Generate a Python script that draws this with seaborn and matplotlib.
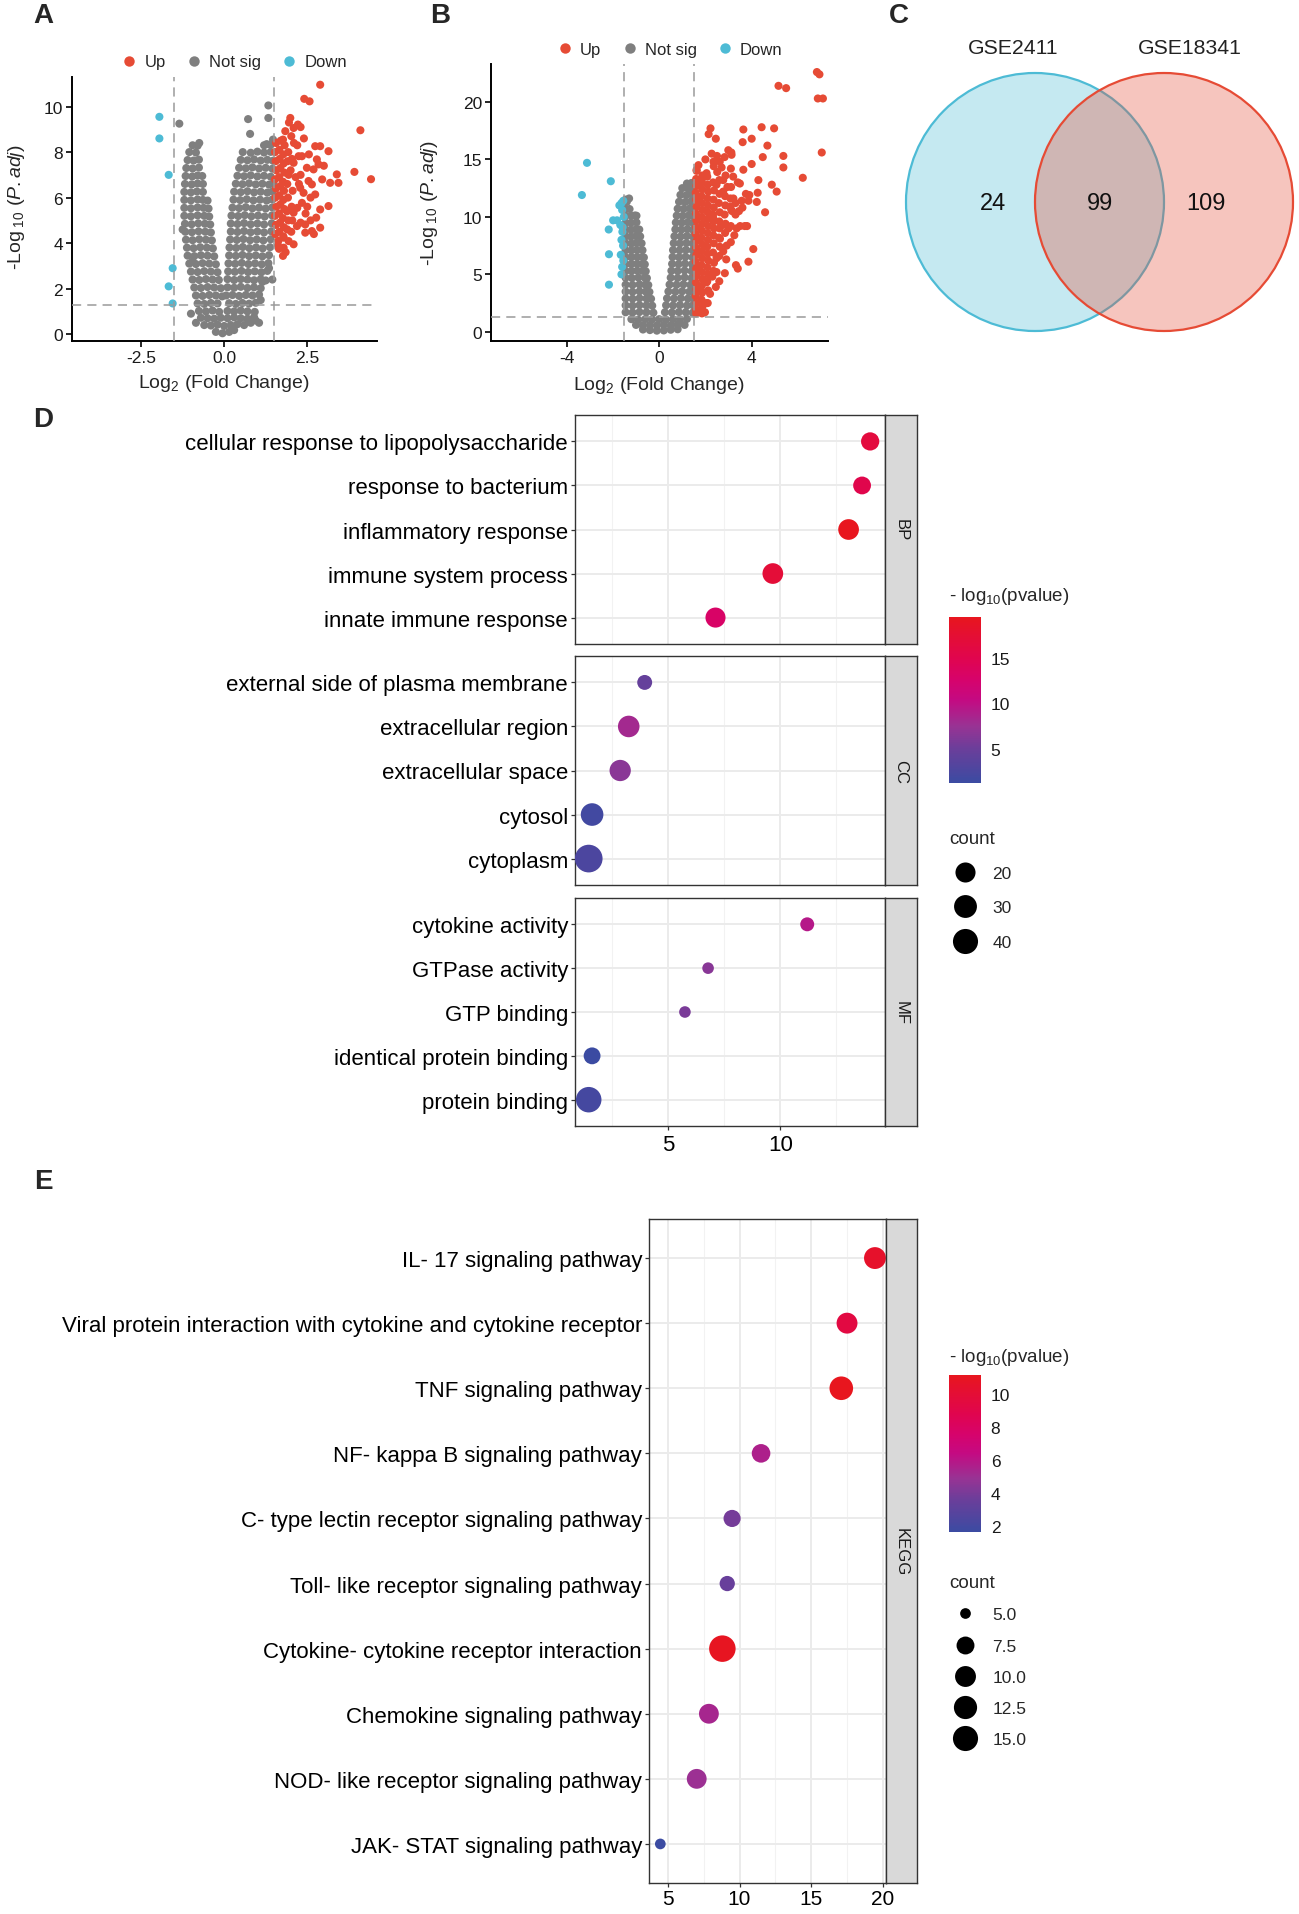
import numpy as np
import pandas as pd
import matplotlib
matplotlib.use("Agg")
import matplotlib.pyplot as plt
import seaborn as sns
from matplotlib.colors import LinearSegmentedColormap, Normalize, to_rgb
from matplotlib.lines import Line2D
from matplotlib.patches import Circle
from matplotlib.ticker import MultipleLocator
import matplotlib.cm as cm

# ---------------------------------------------------------------- data
# Panel A volcano (log2FC, -log10 padj)
a_up = [
    (1.54, 4.4), (1.56, 4.8), (1.53, 5.2), (1.57, 5.6), (1.54, 6.0), (1.56, 6.4), (1.53, 6.8), (1.57, 7.2),
    (1.55, 7.6), (1.53, 8.0), (1.56, 8.4), (1.66, 4.5), (1.68, 4.9), (1.65, 5.3), (1.69, 5.7), (1.66, 6.1),
    (1.68, 6.5), (1.65, 6.9), (1.69, 7.3), (1.67, 7.7), (1.66, 8.1), (1.7, 8.5), (1.78, 4.3), (1.8, 4.7),
    (1.77, 5.1), (1.81, 5.5), (1.78, 5.9), (1.8, 6.3), (1.77, 6.7), (1.81, 7.1), (1.79, 7.5), (1.78, 7.9),
    (1.82, 8.3), (1.9, 4.6), (1.93, 5.0), (1.89, 5.4), (1.92, 6.0), (1.9, 6.6), (1.94, 7.0), (1.91, 7.6),
    (1.93, 8.0), (2.02, 4.5), (2.05, 5.0), (2.03, 5.6), (2.06, 6.3), (2.0, 7.2), (2.04, 7.7),
    (2.89, 10.96), (2.41, 10.34), (2.57, 10.23), (1.99, 9.5), (2.22, 9.21), (2.09, 9.06), (1.84, 8.92),
    (2.02, 8.7), (1.77, 8.55), (4.1, 8.96), (2.89, 8.26), (2.74, 8.26), (3.14, 8.04), (2.24, 7.82),
    (2.34, 7.82), (2.09, 7.53), (2.79, 7.68), (2.84, 7.46), (2.49, 7.31), (2.69, 7.24), (3.39, 7.02),
    (3.92, 7.13), (4.42, 6.81), (3.19, 6.65), (3.44, 6.65), (2.54, 6.73), (2.64, 6.58), (2.29, 6.43),
    (2.39, 6.21), (2.74, 6.14), (3.14, 5.63), (2.89, 5.48), (2.34, 5.77), (2.2, 5.55), (2.09, 5.34),
    (2.45, 5.3), (2.77, 5.12), (2.6, 5.0), (2.89, 4.68), (2.44, 4.82), (2.64, 4.53), (2.44, 4.46),
    (2.19, 4.75), (2.3, 4.9), (1.79, 4.24), (1.94, 4.09), (2.09, 3.95), (1.79, 3.8), (1.77, 3.44),
    (1.85, 3.6), (2.15, 6.9), (2.3, 7.0), (2.55, 7.9), (2.2, 8.3), (2.4, 8.6), (2.1, 8.4), (2.6, 6.0),
    (2.5, 5.6), (2.95, 6.8), (3.0, 7.4), (1.62, 3.9), (2.7, 4.4), (2.25, 6.6), (1.95, 9.3), (2.3, 9.1),
    (1.65, 3.75), (1.63, 4.1),
]
a_down = [(-1.95, 9.55), (-1.95, 8.6), (-1.67, 7.0), (-1.55, 2.9), (-1.67, 2.1), (-1.55, 1.35)]
a_notsig = [
    (-0.25, 0.1), (-0.05, 0.04), (0.15, 0.1), (0.3, 0.18),
    (-0.6, 0.4), (-0.4, 0.38), (-0.2, 0.42), (0.0, 0.36), (0.2, 0.4), (0.4, 0.44), (0.6, 0.4), (0.8, 0.5),
    (-0.7, 0.72), (-0.5, 0.7), (-0.3, 0.68), (-0.1, 0.72), (0.1, 0.7), (0.3, 0.74), (0.5, 0.7), (0.7, 0.68), (0.9, 0.75),
    (-0.76, 1.02), (-0.55, 1.0), (-0.35, 1.04), (-0.15, 0.98), (0.1, 1.02), (0.3, 1.0), (0.5, 1.04), (0.7, 1.0), (0.92, 0.98),
    (-0.8, 1.35), (-0.6, 1.33), (-0.4, 1.37), (-0.2, 1.35), (0.15, 1.36), (0.35, 1.33), (0.55, 1.37), (0.75, 1.34), (0.95, 1.38),
    (-0.85, 1.7), (-0.65, 1.68), (-0.45, 1.72), (-0.25, 1.7), (-0.06, 1.66), (0.06, 1.7), (0.25, 1.72), (0.45, 1.68),
    (0.65, 1.72), (0.85, 1.7), (1.05, 1.74),
    (-0.9, 2.05), (-0.7, 2.03), (-0.5, 2.07), (-0.3, 2.05), (-0.1, 2.02), (0.1, 2.06), (0.3, 2.04), (0.5, 2.08),
    (0.7, 2.03), (0.9, 2.06), (1.1, 2.02),
    (-0.95, 2.4), (-0.75, 2.38), (-0.55, 2.42), (-0.35, 2.4), (-0.16, 2.38), (0.1, 2.42), (0.3, 2.38), (0.5, 2.42),
    (0.7, 2.4), (0.9, 2.37), (1.1, 2.42), (1.25, 2.36),
    (-1.0, 2.75), (-0.8, 2.73), (-0.6, 2.77), (-0.4, 2.75), (-0.2, 2.72), (0.12, 2.76), (0.32, 2.74), (0.52, 2.78),
    (0.72, 2.73), (0.92, 2.76), (1.12, 2.72), (1.3, 2.78),
    (-1.05, 3.1), (-0.85, 3.08), (-0.65, 3.12), (-0.45, 3.1), (-0.25, 3.07), (0.13, 3.11), (0.33, 3.09), (0.53, 3.13),
    (0.73, 3.08), (0.93, 3.11), (1.13, 3.07), (1.33, 3.12),
    (-1.1, 3.45), (-0.9, 3.43), (-0.7, 3.47), (-0.5, 3.45), (-0.3, 3.42), (0.15, 3.46), (0.35, 3.44), (0.55, 3.48),
    (0.75, 3.43), (0.95, 3.46), (1.15, 3.42), (1.35, 3.47),
    (-1.12, 3.8), (-0.92, 3.78), (-0.72, 3.82), (-0.52, 3.8), (-0.34, 3.77), (0.16, 3.81), (0.36, 3.79), (0.56, 3.83),
    (0.76, 3.78), (0.96, 3.81), (1.16, 3.77), (1.38, 3.82),
    (-1.15, 4.15), (-0.95, 4.13), (-0.75, 4.17), (-0.55, 4.15), (-0.37, 4.12), (0.18, 4.16), (0.38, 4.14), (0.58, 4.18),
    (0.78, 4.13), (0.98, 4.16), (1.18, 4.12), (1.4, 4.17),
    (-1.17, 4.5), (-0.97, 4.48), (-0.77, 4.52), (-0.57, 4.5), (-0.4, 4.47), (0.2, 4.51), (0.4, 4.49), (0.6, 4.53),
    (0.8, 4.48), (1.0, 4.51), (1.2, 4.47), (1.42, 4.52),
    (-1.18, 4.85), (-0.98, 4.83), (-0.78, 4.87), (-0.58, 4.85), (-0.42, 4.82), (0.2, 4.86), (0.4, 4.84), (0.6, 4.88),
    (0.8, 4.83), (1.0, 4.86), (1.2, 4.82), (1.43, 4.87),
    (-1.2, 5.2), (-1.0, 5.18), (-0.8, 5.22), (-0.6, 5.2), (-0.45, 5.17), (0.22, 5.21), (0.42, 5.19), (0.62, 5.23),
    (0.82, 5.18), (1.02, 5.21), (1.22, 5.17), (1.44, 5.22),
    (-1.2, 5.55), (-1.0, 5.53), (-0.8, 5.57), (-0.62, 5.55), (-0.47, 5.52), (0.25, 5.56), (0.45, 5.54), (0.65, 5.58),
    (0.85, 5.53), (1.05, 5.56), (1.25, 5.52), (1.45, 5.57),
    (-1.2, 5.9), (-1.0, 5.88), (-0.8, 5.92), (-0.64, 5.9), (-0.5, 5.87), (0.28, 5.91), (0.48, 5.89), (0.68, 5.93),
    (0.88, 5.88), (1.08, 5.91), (1.28, 5.87), (1.45, 5.92),
    (-1.2, 6.25), (-1.0, 6.23), (-0.82, 6.27), (-0.64, 6.25), (0.3, 6.26), (0.5, 6.24), (0.7, 6.28), (0.9, 6.23),
    (1.1, 6.26), (1.3, 6.22), (1.46, 6.27),
    (-1.18, 6.6), (-0.98, 6.58), (-0.8, 6.62), (-0.64, 6.6), (0.35, 6.61), (0.55, 6.59), (0.75, 6.63), (0.95, 6.58),
    (1.15, 6.61), (1.35, 6.57), (1.47, 6.62),
    (-1.16, 6.95), (-0.96, 6.93), (-0.8, 6.97), (-0.66, 6.95), (0.4, 6.96), (0.6, 6.94), (0.8, 6.98), (1.0, 6.93),
    (1.2, 6.96), (1.4, 6.92),
    (-1.14, 7.3), (-0.95, 7.28), (-0.76, 7.32), (0.45, 7.31), (0.65, 7.29), (0.85, 7.33), (1.05, 7.28), (1.25, 7.31),
    (1.45, 7.27),
    (-1.1, 7.65), (-0.92, 7.63), (-0.76, 7.67), (0.5, 7.66), (0.7, 7.64), (0.9, 7.68), (1.1, 7.63), (1.3, 7.66),
    (1.47, 7.62),
    (-1.05, 8.0), (-0.85, 7.98), (0.56, 8.0), (0.8, 7.97), (1.0, 8.02), (1.2, 7.98), (1.4, 8.01),
    (-0.95, 8.3), (-0.8, 8.28), (1.2, 8.3), (1.4, 8.32), (1.47, 8.55),
    (-1.35, 9.25), (-0.75, 8.4), (0.72, 9.45), (0.78, 8.8), (1.33, 10.05), (1.33, 9.5), (1.28, 8.35),
    (-1.25, 4.6), (-1.0, 0.9), (1.45, 2.4), (1.15, 2.3), (0.95, 0.6), (1.05, 0.5), (-0.95, 3.2), (1.35, 2.9),
    (1.1, 1.5), (-0.85, 0.5),
]

# Panel B volcano
b_up = [
    (1.6, 1.9), (1.62, 2.5), (1.58, 3.1), (1.61, 3.7), (1.59, 4.3), (1.62, 4.9), (1.6, 5.5), (1.58, 6.1),
    (1.61, 6.7), (1.6, 7.3), (1.62, 7.9), (1.58, 8.5), (1.6, 9.1), (1.61, 9.7), (1.59, 10.3), (1.62, 10.9),
    (1.6, 11.5), (1.58, 12.1), (1.61, 12.7), (1.6, 13.3), (1.62, 14.0),
    (1.85, 1.6), (1.87, 2.2), (1.83, 2.8), (1.86, 3.4), (1.84, 4.0), (1.87, 4.6), (1.85, 5.2), (1.83, 5.8),
    (1.86, 6.4), (1.85, 7.0), (1.87, 7.6), (1.83, 8.2), (1.85, 8.8), (1.86, 9.4), (1.84, 10.0), (1.87, 10.6),
    (1.85, 11.2), (1.83, 11.8), (1.86, 12.4), (1.85, 13.0), (1.87, 13.6),
    (2.1, 2.5), (2.12, 3.6), (2.08, 4.4), (2.11, 5.0), (2.09, 5.6), (2.12, 6.2), (2.1, 6.8), (2.08, 7.4),
    (2.11, 8.0), (2.1, 8.6), (2.12, 9.2), (2.08, 9.8), (2.1, 10.4), (2.11, 11.0), (2.09, 11.6), (2.12, 12.2),
    (2.1, 12.8), (2.08, 13.5),
    (2.35, 5.3), (2.37, 6.0), (2.33, 6.9), (2.36, 7.7), (2.34, 8.4), (2.37, 9.0), (2.35, 9.6), (2.33, 10.2),
    (2.36, 10.8), (2.35, 11.5), (2.37, 12.3), (2.33, 13.0), (2.36, 14.4),
    (2.6, 6.6), (2.62, 7.4), (2.58, 8.2), (2.61, 9.0), (2.6, 9.6), (2.62, 10.4), (2.58, 11.2), (2.61, 12.0),
    (2.6, 13.2), (2.62, 14.8),
    (2.85, 8.6), (2.87, 9.4), (2.83, 10.2), (2.86, 11.0), (2.85, 11.8), (2.87, 13.6), (2.83, 15.2),
    (3.1, 9.2), (3.12, 10.6), (3.08, 11.6), (3.11, 12.6), (3.1, 14.2), (3.12, 15.6),
    (6.82, 22.6), (6.93, 22.4), (5.16, 21.4), (5.49, 21.2), (6.86, 20.3), (7.08, 20.3), (7.03, 15.6),
    (6.21, 13.4), (2.22, 17.7), (2.14, 17.2), (2.45, 16.8), (3.64, 17.6), (4.43, 17.8), (4.97, 17.7),
    (3.61, 16.5), (4.0, 16.8), (4.68, 16.2), (2.99, 15.8), (3.13, 15.4), (2.27, 15.5), (2.5, 15.3),
    (4.0, 14.6), (4.48, 15.2), (5.37, 15.3), (5.37, 14.3), (3.64, 14.1), (2.7, 14.3), (4.29, 13.2),
    (4.87, 12.8), (5.08, 12.2), (3.49, 12.9), (3.75, 12.0), (4.26, 12.1), (3.57, 11.4), (3.86, 11.4),
    (4.22, 11.3), (4.58, 10.4), (3.21, 11.6), (3.06, 10.9), (3.35, 9.0), (3.0, 9.0), (3.3, 10.2),
    (4.07, 7.2), (3.86, 6.1), (3.32, 5.8), (3.4, 5.5), (2.84, 5.1), (2.48, 5.2), (2.3, 4.8), (2.45, 3.9),
    (2.2, 3.3), (2.05, 2.5), (1.76, 1.9), (1.98, 1.7), (1.6, 1.6), (2.34, 9.9), (2.77, 9.3), (2.63, 8.1),
    (2.92, 7.5), (2.77, 7.0), (2.48, 6.4), (2.05, 4.3), (1.83, 3.5), (2.77, 13.2), (2.48, 12.8),
    (2.77, 12.2), (2.95, 12.6), (2.51, 13.9), (2.05, 13.8), (1.62, 14.1), (1.83, 13.2), (3.2, 13.5),
    (3.4, 13.0), (3.6, 10.8), (3.8, 9.2), (2.6, 4.4), (2.9, 6.3), (3.1, 7.8), (3.25, 8.4), (2.0, 15.0),
    (2.35, 14.8), (1.7, 14.5), (3.9, 11.9), (3.3, 11.2), (3.5, 9.2), (3.7, 9.2), (3.15, 10.5), (3.45, 10.5),
]
b_down = [
    (-3.12, 14.7), (-3.34, 11.9), (-2.09, 13.1), (-2.18, 8.9), (-2.17, 6.75), (-2.17, 4.1), (-1.63, 11.2),
    (-1.72, 11.0), (-1.55, 11.4), (-1.6, 10.6), (-1.99, 9.7), (-1.82, 9.7), (-1.68, 9.3), (-1.59, 8.7),
    (-1.63, 8.0), (-1.56, 7.5), (-1.66, 6.7), (-1.6, 5.65), (-1.63, 5.0), (-1.55, 6.2), (-1.53, 10.0),
    (-1.58, 9.1),
]
b_notsig = [
    (-0.7, 0.2), (-0.4, 0.15), (-0.1, 0.1), (0.2, 0.12), (0.5, 0.18), (0.8, 0.22),
    (-1.0, 0.6), (-0.7, 0.55), (-0.4, 0.6), (-0.1, 0.55), (0.2, 0.6), (0.5, 0.55), (0.8, 0.62), (1.1, 0.6),
    (-1.2, 1.1), (-0.9, 1.05), (-0.6, 1.1), (-0.3, 1.08), (0.0, 1.1), (0.3, 1.05), (0.6, 1.1), (0.9, 1.08), (1.2, 1.12),
    (-1.45, 1.7), (-1.15, 1.68), (-0.85, 1.72), (-0.55, 1.7), (-0.25, 1.66), (0.25, 1.7), (0.55, 1.68),
    (0.85, 1.72), (1.15, 1.7), (1.45, 1.66),
    (-1.45, 2.3), (-1.15, 2.28), (-0.85, 2.32), (-0.55, 2.3), (-0.3, 2.27), (0.3, 2.31), (0.6, 2.29),
    (0.9, 2.33), (1.2, 2.28), (1.46, 2.31),
    (-1.45, 2.9), (-1.15, 2.88), (-0.85, 2.92), (-0.55, 2.9), (-0.35, 2.87), (0.34, 2.91), (0.64, 2.89),
    (0.94, 2.93), (1.24, 2.88), (1.47, 2.91),
    (-1.45, 3.5), (-1.15, 3.48), (-0.85, 3.52), (-0.58, 3.5), (-0.42, 3.47), (0.4, 3.51), (0.7, 3.49),
    (1.0, 3.53), (1.3, 3.48), (1.47, 3.51),
    (-1.45, 4.1), (-1.15, 4.08), (-0.85, 4.12), (-0.6, 4.1), (-0.47, 4.07), (0.45, 4.11), (0.75, 4.09),
    (1.05, 4.13), (1.35, 4.08),
    (-1.45, 4.7), (-1.18, 4.68), (-0.9, 4.72), (-0.62, 4.7), (-0.53, 4.67), (0.5, 4.71), (0.8, 4.69),
    (1.1, 4.73), (1.4, 4.68),
    (-1.45, 5.3), (-1.2, 5.28), (-0.95, 5.32), (-0.72, 5.3), (-0.58, 5.27), (0.53, 5.31), (0.8, 5.29),
    (1.1, 5.33), (1.4, 5.28), (1.47, 5.5),
    (-1.45, 5.9), (-1.2, 5.88), (-0.95, 5.92), (-0.72, 5.9), (-0.62, 5.87), (0.56, 5.91), (0.84, 5.89),
    (1.12, 5.93), (1.42, 5.88),
    (-1.45, 6.5), (-1.2, 6.48), (-0.95, 6.52), (-0.72, 6.5), (-0.66, 6.47), (0.58, 6.51), (0.86, 6.49),
    (1.14, 6.53), (1.44, 6.48),
    (-1.45, 7.1), (-1.2, 7.08), (-0.96, 7.12), (-0.72, 7.1), (0.6, 7.11), (0.88, 7.09), (1.16, 7.13), (1.45, 7.08),
    (-1.45, 7.7), (-1.2, 7.68), (-0.98, 7.72), (-0.76, 7.7), (0.63, 7.71), (0.9, 7.69), (1.18, 7.73), (1.45, 7.68),
    (-1.45, 8.3), (-1.22, 8.28), (-1.0, 8.32), (-0.82, 8.3), (0.66, 8.31), (0.93, 8.29), (1.2, 8.33), (1.46, 8.28),
    (-1.45, 8.9), (-1.22, 8.88), (-1.0, 8.92), (-0.86, 8.9), (0.7, 8.91), (0.96, 8.89), (1.22, 8.93), (1.46, 8.88),
    (-1.45, 9.5), (-1.22, 9.48), (-0.98, 9.52), (0.72, 9.51), (0.98, 9.49), (1.24, 9.53), (1.46, 9.48),
    (-1.45, 10.1), (-1.2, 10.08), (-1.05, 10.12), (0.76, 10.11), (1.02, 10.09), (1.28, 10.13), (1.47, 10.08),
    (-1.45, 10.7), (-1.28, 10.68), (0.8, 10.71), (1.06, 10.69), (1.32, 10.73), (1.47, 10.68),
    (-1.4, 11.3), (0.86, 11.31), (1.12, 11.29), (1.38, 11.33),
    (0.92, 11.91), (1.18, 11.89), (1.42, 11.93),
    (1.0, 12.5), (1.25, 12.48), (1.45, 12.52), (1.2, 12.9), (1.4, 12.95),
    (-0.98, 10.1), (-1.3, 11.6), (-1.45, 11.5),
]

# Panel C Venn
venn_sets = ["GSE2411", "GSE18341"]
venn_counts = [24, 99, 109]  # only first, both, only second

# Panel D GO enrichment
go_term = [
    "cellular response to lipopolysaccharide", "response to bacterium", "inflammatory response",
    "immune system process", "innate immune response",
    "external side of plasma membrane", "extracellular region", "extracellular space", "cytosol", "cytoplasm",
    "cytokine activity", "GTPase activity", "GTP binding", "identical protein binding", "protein binding",
]
go_category = ["BP", "BP", "BP", "BP", "BP", "CC", "CC", "CC", "CC", "CC", "MF", "MF", "MF", "MF", "MF"]
go_x = [14.0, 13.64, 13.04, 9.67, 7.12, 3.97, 3.26, 2.88, 1.63, 1.48, 11.2, 6.79, 5.76, 1.63, 1.48]
go_logp = [16.5, 15.2, 19.5, 17.0, 13.0, 4.5, 8.2, 6.7, 1.8, 2.6, 9.4, 6.6, 5.8, 1.2, 2.0]
go_count = [15, 14, 22, 22, 20, 9, 25, 24, 29, 54, 8, 7, 7, 12, 42]
go_size_breaks = [20, 30, 40]
go_color_ticks = [5, 10, 15]

# Panel E KEGG enrichment
kegg_term = [
    "IL- 17 signaling pathway", "Viral protein interaction with cytokine and cytokine receptor",
    "TNF signaling pathway", "NF- kappa B signaling pathway", "C- type lectin receptor signaling pathway",
    "Toll- like receptor signaling pathway", "Cytokine- cytokine receptor interaction",
    "Chemokine signaling pathway", "NOD- like receptor signaling pathway", "JAK- STAT signaling pathway",
]
kegg_x = [19.45, 17.5, 17.1, 11.5, 9.48, 9.14, 8.8, 7.86, 7.01, 4.47]
kegg_logp = [10.5, 9.4, 11.15, 5.6, 3.9, 3.5, 11.0, 5.4, 5.0, 1.66]
kegg_count = [11, 10, 13, 8, 7, 6, 17, 9, 9, 5]
kegg_size_breaks = [5.0, 7.5, 10.0, 12.5, 15.0]
kegg_color_ticks = [2, 4, 6, 8, 10]

# ---------------------------------------------------------------- style
W, H, DPI = 1299, 1915, 100
sns.set_theme(style="ticks")
plt.rcParams["font.family"] = ["Liberation Sans", "DejaVu Sans"]
plt.rcParams["mathtext.fontset"] = "custom"
plt.rcParams["mathtext.rm"] = "Liberation Sans"
plt.rcParams["mathtext.it"] = "Liberation Sans:italic"
plt.rcParams["mathtext.bf"] = "Liberation Sans:bold"

VOLC_COLORS = {"Up": "#E64B35", "Not sig": "#7F7F7F", "Down": "#4DBBD5"}
GROUPS = ["Up", "Not sig", "Down"]
LFC_CUT, P_CUT = 1.5, 0.05
PV_CMAP = LinearSegmentedColormap.from_list(
    "pv", [(0.0, "#3B4BA2"), (0.21, "#6C3E9A"), (0.34, "#983394"), (0.5, "#C40A82"),
           (0.62, "#D6036C"), (0.75, "#E0054F"), (1.0, "#E8161E")])
PX2PT = 72.0 / DPI

fig = plt.figure(figsize=(W / DPI, H / DPI), dpi=DPI)


def rect(l, t, r, b):
    return [l / W, 1 - b / H, (r - l) / W, (b - t) / H]


def fxy(x, y):
    return x / W, 1 - y / H


# ---------------------------------------------------------------- volcano
def volcano(box, up, ns, down, xlim, ylim, xticks, xlabels, yticks, leg_anchor):
    ax = fig.add_axes(rect(*box))
    rows = ([(x, y, "Not sig") for x, y in ns] + [(x, y, "Up") for x, y in up]
            + [(x, y, "Down") for x, y in down])
    df = pd.DataFrame(rows, columns=["lfc", "nlp", "group"])
    sns.scatterplot(data=df, x="lfc", y="nlp", hue="group", palette=VOLC_COLORS, s=34,
                    linewidth=0, ax=ax, legend=False, zorder=3)
    dash = dict(color="#9A9A9A", lw=1.1, ls=(0, (6, 4)), zorder=4)
    ax.axvline(-LFC_CUT, **dash)
    ax.axvline(LFC_CUT, **dash)
    ax.axhline(-np.log10(P_CUT), **dash)
    ax.set_xlim(*xlim)
    ax.set_ylim(*ylim)
    ax.set_xticks(xticks)
    ax.set_xticklabels(xlabels)
    ax.set_yticks(yticks)
    ax.set_xlabel("")
    ax.set_ylabel("")
    for s in ["top", "right"]:
        ax.spines[s].set_visible(False)
    for s in ["left", "bottom"]:
        ax.spines[s].set_color("black")
        ax.spines[s].set_linewidth(1.4)
    ax.tick_params(length=4.5, width=1.2, color="black", labelsize=12.5, labelcolor="#1a1a1a",
                   direction="out", pad=2, bottom=True, left=True)
    handles = [Line2D([], [], ls="", marker="o", color=VOLC_COLORS[g], markersize=7.5,
                      markeredgewidth=0) for g in GROUPS]
    ax.legend(handles, GROUPS, loc="center", bbox_to_anchor=leg_anchor, ncol=3, frameon=False,
              fontsize=12, handletextpad=0.3, columnspacing=1.1, handlelength=1.2,
              borderaxespad=0, borderpad=0)
    return ax


volcano((72, 78, 377, 342), a_up, a_notsig, a_down, (-4.58, 4.6), (-0.3, 11.3),
        [-2.5, 0.0, 2.5], ["-2.5", "0.0", "2.5"], [0, 2, 4, 6, 8, 10], (0.528, 1.057))
volcano((491, 65, 828, 342), b_up, b_notsig, b_down, (-7.27, 7.3), (-0.8, 23.3),
        [-4, 0, 4], ["-4", "0", "4"], [0, 5, 10, 15, 20], (0.528, 1.054))

ylab = r"-Log$_{\ 10}$ ($\mathit{P{.}adj}$)"
xlab = r"Log$_2$ (Fold Change)"
fig.text(*fxy(17, 207), ylab, rotation=90, ha="center", va="center", fontsize=14)
fig.text(*fxy(224, 384), xlab, ha="center", va="center", fontsize=14)
fig.text(*fxy(430, 203), ylab, rotation=90, ha="center", va="center", fontsize=14)
fig.text(*fxy(659, 385), xlab, ha="center", va="center", fontsize=14)

# ---------------------------------------------------------------- venn
axv = fig.add_axes(rect(880, 30, 1299, 345))
axv.set_xlim(880, 1299)
axv.set_ylim(345, 30)
axv.axis("off")
venn_blue, venn_red = "#4DBBD5", "#E64B35"
axv.add_patch(Circle((1035, 203), 129, facecolor=(*to_rgb(venn_blue), 0.32), edgecolor=venn_blue, lw=1.6))
axv.add_patch(Circle((1164, 203), 129, facecolor=(*to_rgb(venn_red), 0.32), edgecolor=venn_red, lw=1.6))
axv.text(1013, 48, venn_sets[0], ha="center", va="center", fontsize=15.3, color="#222222")
axv.text(1190, 48, venn_sets[1], ha="center", va="center", fontsize=15.3, color="#222222")
for xpos, val in zip([993, 1100, 1206], venn_counts):
    axv.text(xpos, 204, str(val), ha="center", va="center", fontsize=17, color="#111111")


# ---------------------------------------------------------------- dot plots
def diam_px(c, cmin, cmax, dmin, dmax):
    return dmin + (dmax - dmin) * np.sqrt(np.clip((c - cmin) / (cmax - cmin), 0, 1))


def dot_facet(box, strip_box, sub, norm, size_args, xlim, xticks, show_x, label, xsize=16, xpad=3):
    ax = fig.add_axes(rect(*box))
    sizes = {c: (diam_px(c, *size_args) * PX2PT) ** 2 for c in sub["count"].unique()}
    sns.scatterplot(data=sub, x="x", y="term", hue="logp", palette=PV_CMAP, hue_norm=norm,
                    size="count", sizes=sizes, linewidth=0, ax=ax, legend=False, zorder=3)
    n = len(sub)
    ax.set_ylim(n - 0.4, -0.6)
    ax.set_xlim(*xlim)
    ax.set_xticks(xticks)
    ax.xaxis.set_minor_locator(MultipleLocator(2.5))
    ax.grid(True, which="major", color="#EBEBEB", lw=1.4)
    ax.grid(True, which="minor", axis="x", color="#F2F2F2", lw=0.8)
    ax.set_axisbelow(True)
    ax.set_xlabel("")
    ax.set_ylabel("")
    for s in ax.spines.values():
        s.set_visible(True)
        s.set_color("#333333")
        s.set_linewidth(1.0)
    ax.tick_params(which="minor", length=0)
    ax.tick_params(axis="y", length=3, width=0.9, color="#333333", labelsize=16,
                   labelcolor="black", pad=2, left=True)
    ax.tick_params(axis="x", length=3, width=0.9, color="#333333", labelsize=xsize,
                   labelcolor="black", pad=xpad, bottom=show_x, labelbottom=show_x)
    sax = fig.add_axes(rect(*strip_box))
    sax.set_facecolor("#D9D9D9")
    sax.set_xticks([])
    sax.set_yticks([])
    for s in sax.spines.values():
        s.set_color("#333333")
        s.set_linewidth(1.0)
    sax.text(0.5, 0.5, label, rotation=-90, ha="center", va="center", fontsize=12,
             color="#1A1A1A", transform=sax.transAxes)
    return ax


def color_legend(box, title_xy, norm, ticks):
    cax = fig.add_axes(rect(*box))
    sm = cm.ScalarMappable(norm=Normalize(*norm), cmap=PV_CMAP)
    cb = fig.colorbar(sm, cax=cax, ticks=ticks)
    cb.outline.set_visible(False)
    cax.tick_params(direction="in", color="white", length=4.5, width=1.0, left=True, right=True,
                    labelsize=12.5, labelcolor="#1a1a1a", pad=7)
    fig.text(*fxy(*title_xy), r"- log$_{10}$(pvalue)", ha="left", va="center", fontsize=13.5)


def size_legend(anchor, breaks, labels, size_args, spacing):
    handles = [Line2D([], [], ls="", marker="o", color="black", markeredgewidth=0,
                      markersize=diam_px(b, *size_args) * PX2PT) for b in breaks]
    fig.legend(handles, labels, title="count", loc="upper left", bbox_to_anchor=fxy(*anchor),
               frameon=False, fontsize=12.5, title_fontsize=13.5, handlelength=1.8,
               handletextpad=0.7, labelspacing=spacing, borderpad=0, borderaxespad=0,
               alignment="left")


go_df = pd.DataFrame({"term": go_term, "cat": go_category, "x": go_x, "logp": go_logp, "count": go_count})
go_norm = (min(go_logp), max(go_logp))
go_size = (min(go_count), max(go_count), 11.6, 27.7)
go_boxes = {"BP": (416, 645), "CC": (657, 886), "MF": (899, 1127)}
for cat in ["BP", "CC", "MF"]:
    t, b = go_boxes[cat]
    dot_facet((575, t, 885, b), (885, t, 917, b), go_df[go_df["cat"] == cat].reset_index(drop=True),
              go_norm, go_size, (0.87, 14.66), [5, 10], cat == "MF", cat)
color_legend((949, 618, 981, 784), (949, 597), go_norm, go_color_ticks)
size_legend((949, 831), go_size_breaks, [str(b) for b in go_size_breaks], go_size, 1.1)

kegg_df = pd.DataFrame({"term": kegg_term, "x": kegg_x, "logp": kegg_logp, "count": kegg_count})
kegg_norm = (min(kegg_logp), max(kegg_logp))
kegg_size = (min(kegg_count), max(kegg_count), 10.7, 26.5)
dot_facet((649, 1220, 886, 1884), (886, 1220, 917, 1884), kegg_df, kegg_norm, kegg_size,
          (3.68, 20.22), [5, 10, 15, 20], True, "KEGG", xsize=15, xpad=1.5)
color_legend((949, 1376, 981, 1533), (949, 1357), kegg_norm, kegg_color_ticks)
size_legend((949, 1575), kegg_size_breaks, [f"{b:.1f}" for b in kegg_size_breaks], kegg_size, 0.93)

# ---------------------------------------------------------------- panel letters
for letter, (px, py) in {"A": (43, 16), "B": (440, 16), "C": (899, 16), "D": (43, 420), "E": (43, 1182)}.items():
    fig.text(*fxy(px, py), letter, ha="center", va="center", fontsize=20, fontweight="bold")

fig.savefig("out.png", dpi=DPI)
